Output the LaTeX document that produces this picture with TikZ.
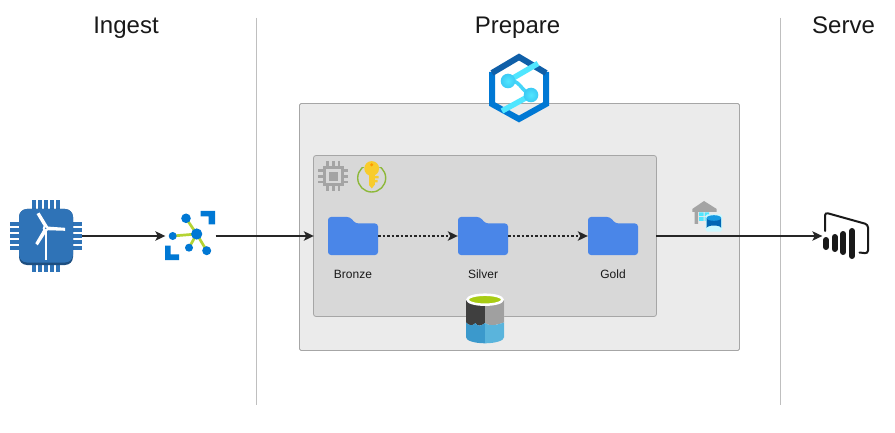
\documentclass[tikz,border=0pt]{standalone}
\usepackage{fontspec}
\setmainfont{Liberation Sans}
\usetikzlibrary{arrows.meta}
\definecolor{chipblue}{HTML}{2F73B7}
\definecolor{chipdark}{HTML}{1D4E80}
\definecolor{azblue}{HTML}{0078D4}
\definecolor{azdark}{HTML}{0F5FA8}
\definecolor{azcyan}{HTML}{50E6FF}
\definecolor{hubgreen}{HTML}{B4D334}
\definecolor{folderblue}{HTML}{4A86E8}
\definecolor{outerfill}{HTML}{EBEBEB}
\definecolor{innerfill}{HTML}{D8D8D8}
\definecolor{boxline}{HTML}{A6A6A6}
\definecolor{chipgray}{HTML}{A4A4A4}
\definecolor{keygold}{HTML}{F8CC2C}
\definecolor{keygreen}{HTML}{8DB83A}
\definecolor{lakedark}{HTML}{3F3F3F}
\definecolor{lakegray}{HTML}{A0A0A0}
\definecolor{lakeblue}{HTML}{3B99CC}
\definecolor{lakelight}{HTML}{5AB4DC}
\definecolor{lakegreen}{HTML}{A8CC14}
\tikzset{
  title/.style={font=\fontsize{24}{28}\selectfont,text=black!90,inner sep=0pt,anchor=base},
  small/.style={font=\fontsize{12}{14}\selectfont,text=black!90,inner sep=0pt,anchor=base},
  anchorbox/.style={inner sep=0pt,minimum width=#1},
  flow/.style={draw=black!85,line width=1.3pt,-{Stealth[length=10pt,width=9.5pt,inset=2.5pt]}},
  dotflow/.style={flow,dash pattern=on 2.5pt off 2pt},
  divider/.style={draw=black!25,line width=0.9pt},
  folderpath/.style={fill=folderblue,rounded corners=3pt},
  cyanline/.style={draw=azcyan,line width=5.5pt},
}
\newcommand{\folderat}[1]{%
  \begin{scope}[shift={(#1,0)}]
    \path[folderpath] (328,217) -- (350,217) -- (355.5,223.5) -- (378,223.5) -- (378,255) -- (328,255) -- cycle;
  \end{scope}}
\begin{document}
\begin{tikzpicture}[x=1pt,y=-1pt]
\useasboundingbox (0,0) rectangle (895,433);
\fill[white] (0,0) rectangle (895,433);
% dividers
\coordinate (d1t) at (256.5,18); \coordinate (d1b) at (256.5,405);
\coordinate (d2t) at (780.5,18); \coordinate (d2b) at (780.5,405);
\draw[divider] (d1t) -- (d1b);
\draw[divider] (d2t) -- (d2b);
% titles
\node[title] (ingest) at (126,34) {Ingest};
\node[title] (prepare) at (517.5,34) {Prepare};
\node[title] (serve) at (843.5,34) {Serve};
% boxes
\draw[fill=outerfill,draw=boxline,rounded corners=1.5pt,line width=0.8pt] (299.5,103.5) rectangle (739.5,350.5);
\draw[fill=innerfill,draw=boxline,rounded corners=2.5pt,line width=0.8pt] (313.5,155.5) rectangle (656.5,316.5);
% turbine chip
\foreach \p in {34,40,46,52,58}{
  \fill[chipblue] (\p-1.9,200) rectangle (\p+1.9,272);
}
\foreach \p in {224,230,236,242,248}{
  \fill[chipblue] (10,\p-1.9) rectangle (82,\p+1.9);
}
\fill[chipdark,rounded corners=8pt] (19,209) rectangle (73,265);
\fill[chipblue,rounded corners=8pt] (19,209) rectangle (73,262.5);
\draw[white,line width=2.2pt] (45.7,228) -- (45.7,260);
\fill[white] (44.2,226.8) -- (36.5,214) -- (39.5,212.5) -- (48,226.5) -- cycle;
\fill[white] (47,226.5) -- (65,227.8) -- (65,230.8) -- (47,230.2) -- cycle;
\fill[white] (44,228.5) -- (35.3,243.3) -- (37.8,245.3) -- (47,231) -- cycle;
\fill[white] (45.7,228.3) circle (3);
\fill[chipblue] (45.7,228.3) circle (0.8);
% event hub
\draw[hubgreen,line width=2.7pt] (196.7,234) -- (186,218.3) (196.7,234) -- (172.7,236) (196.7,234) -- (189,247.7) (196.7,234) -- (206.7,250.7);
\fill[azblue] (196.7,234) circle (5.6) (186,218.3) circle (4.8) (172.7,236) circle (4) (189,247.7) circle (4) (206.7,250.7) circle (4.5);
\fill[azblue] (200.7,211) -- (215,211) -- (215,224.3) -- (208.5,224.3) -- (208.5,216.5) -- (200.7,216.5) -- cycle;
\fill[azblue] (165,245.7) -- (170.7,245.7) -- (170.7,254.3) -- (179,254.3) -- (179,260) -- (165,260) -- cycle;
% synapse
\draw[azblue,line width=6pt,line join=miter] (492,72) -- (492,104) -- (519,119) -- (546,104) -- (546,72);
\draw[azdark,line width=6pt,line join=miter] (492,73) -- (519,57) -- (546,73);
\draw[cyanline] (538,63.5) -- (508,81);
\draw[cyanline] (531,95) -- (502,111);
\draw[azcyan!85!azblue,line width=3.5pt] (508,81) .. controls (520,79) and (520,90) .. (531,95);
\shade[inner color=azcyan,outer color=azcyan!75!azblue] (508,81) circle (7.3);
\shade[inner color=azcyan,outer color=azcyan!75!azblue] (531,95) circle (7.3);
% gray chip
\foreach \p in {327.5,333.3,339}{
  \draw[chipgray,line width=2.6pt] (\p,161) -- (\p,191.5);
  \draw[chipgray,line width=2.6pt] (318.3,\p-157) -- (348.3,\p-157);
}
\draw[chipgray,fill=innerfill,line width=3pt] (324.5,167.5) rectangle (342,185);
\fill[chipgray] (329.2,172) rectangle (337.7,180.7);
% key
\draw[draw=keygreen,line width=1.4pt] (371.7,178) circle (14);
\fill[innerfill] (361,162) rectangle (383,167);
\fill[keygold] (371.7,168.5) circle (7.4);
\fill[keygold] (369,172) rectangle (374.5,185.5);
\fill[keygold] (369,185) -- (374.5,185) -- (371.8,188.5) -- cycle;
\fill[keygold] (374,176) rectangle (378.5,178.5) (374,180) rectangle (377.5,182.5);
\fill[orange!80!yellow] (371.7,164.8) circle (1.7);
% folders
\folderat{0}
\folderat{130}
\folderat{260}
\node[anchorbox=50pt,minimum height=38pt] (bronze) at (353,236) {};
\node[anchorbox=50pt,minimum height=38pt] (silver) at (483,236) {};
\node[anchorbox=50pt,minimum height=38pt] (gold) at (613,236) {};
\node[small] (lb) at (353,278) {Bronze};
\node[small] (ls) at (483,278) {Silver};
\node[small] (lg) at (613,278) {Gold};
% data lake
\fill[white] (466,300) -- (466,337) arc[start angle=180,end angle=360,x radius=19,y radius=6] -- (504,300) arc[start angle=0,end angle=180,x radius=19,y radius=6] -- cycle;
\fill[lakedark] (466,300) -- (485,300) -- (485,323) .. controls (481,326.5) and (477,326.5) .. (475.5,323) .. controls (473,326) and (469,326) .. (466,322.5) -- cycle;
\fill[lakegray] (504,300) -- (485,300) -- (485,323) .. controls (489,326) and (494,326) .. (504,322.5) -- cycle;
\fill[lakeblue] (466,322.5) .. controls (469,326) and (473,326) .. (475.5,323) .. controls (477,326.5) and (481,326.5) .. (485,323) -- (485,343.3) arc[start angle=90,end angle=180,x radius=19,y radius=6] -- cycle;
\fill[lakelight] (485,323) .. controls (489,326) and (494,326) .. (504,322.5) -- (504,337.3) arc[start angle=0,end angle=90,x radius=19,y radius=6] -- cycle;
\draw[fill=lakegreen,draw=white,line width=2.5pt] (485,299.7) ellipse [x radius=17.5,y radius=5];
% warehouse
\fill[chipgray] (692.3,209) -- (704,201) -- (716.7,209) -- (716.7,212) -- (698,212) -- (698,224) -- (694.5,224) -- (694.5,212) -- (692.3,212) -- cycle;
\fill[azcyan] (699,212.5) rectangle (703.5,216.2) (704.7,212.5) rectangle (709,216.2) (699,217.2) rectangle (703.5,221) (704.7,217.2) rectangle (707,221);
\fill[white!70!azcyan,rounded corners=1.5pt] (705.6,214.5) rectangle (722.2,231.5);
\fill[azblue!85!black] (706.7,218) -- (706.7,228) arc[start angle=180,end angle=360,x radius=7.2,y radius=2.5] -- (721.1,218) -- cycle;
\fill[azblue!70!azcyan] (713.9,218) ellipse [x radius=7.2,y radius=2.8];
% power bi
\draw[black!90,line width=2pt,rounded corners=3pt,line cap=round] (825,231) -- (825,212.5) -- (868,224.5) -- (868,253.5) -- (859.5,252.5);
\foreach \xx/\ya/\yb in {826/240/247, 834.7/237/249, 843.3/234/252, 852/231/256}{
  \draw[black!90,line width=6pt,line cap=round] (\xx,\ya) -- (\xx,\yb);
}
% anchors and connectors
\node[anchorbox=72pt,minimum height=72pt] (turbine) at (46,236) {};
\node[anchorbox=50pt,minimum height=49pt] (hub) at (190.5,236) {};
\node[anchorbox=10pt,minimum height=161pt] (innerbox) at (319,236) {};
\node[anchorbox=0pt,minimum height=40pt] (innerright) at (656,236) {};
\node[anchorbox=2pt,minimum height=40pt] (pbi) at (823.5,236) {};
\draw[flow] (turbine.east) -- (hub.west);
\draw[flow] (hub.east) -- (innerbox.west);
\draw[dotflow] (bronze.east) -- (silver.west);
\draw[dotflow] (silver.east) -- (gold.west);
\draw[flow] (innerright.center) -- (pbi.west);
\end{tikzpicture}
\end{document}
